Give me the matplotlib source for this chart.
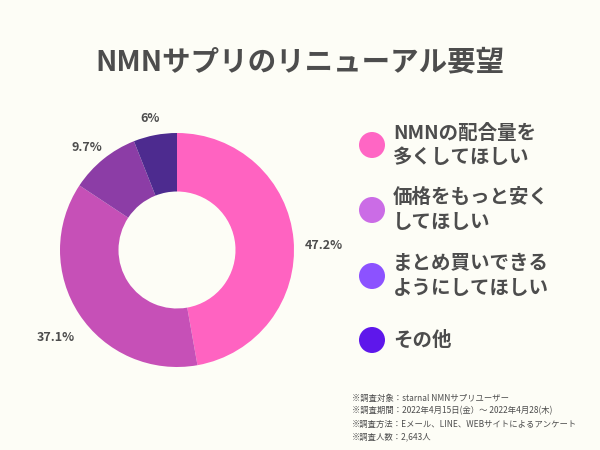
import matplotlib
matplotlib.use("Agg")
import matplotlib.pyplot as plt
from matplotlib.patches import Circle
import numpy as np

plt.rcParams['font.family'] = ['Noto Sans CJK JP', 'DejaVu Sans']

# data
categories = ["NMNの配合量を\n多くしてほしい", "価格をもっと安く\nしてほしい",
              "まとめ買いできる\nようにしてほしい", "その他"]
values = [47.2, 37.1, 9.7, 6.0]
value_labels = ["47.2%", "37.1%", "9.7%", "6%"]
pie_colors = ["#ff63c1", "#c650b7", "#8c3da6", "#4d2b8f"]
legend_colors = ["#ff66c4", "#cb6ce6", "#8c52ff", "#5e17eb"]
notes = [
    "※調査対象：starnal NMNサプリユーザー",
    "※調査期間：2022年4月15日(金）～ 2022年4月28(木)",
    "※調査方法：Eメール、LINE、WEBサイトによるアンケート",
    "※調査人数：2,643人",
]

BG = "#fdfdf6"
TXT = "#4d4d4d"

fig = plt.figure(figsize=(6, 4.5), dpi=100, facecolor=BG)
ax = fig.add_axes([0, 0, 1, 1])
ax.set_facecolor(BG)

# donut
cx, cy, r = 177, 200, 117
ax.pie(values, colors=pie_colors, startangle=90, counterclock=False,
       center=(cx, cy), radius=r, wedgeprops=dict(width=r * 0.5, linewidth=0),
       frame=True)
ax.set_xlim(0, 600)
ax.set_ylim(0, 450)
ax.set_aspect("equal")
ax.axis("off")

# percentage labels around the ring
ang = 90.0
label_r = [1.26, 1.24, 1.22, 1.21]
for v, lab, lr in zip(values, value_labels, label_r):
    mid = ang - v * 3.6 / 2
    ang -= v * 3.6
    t = np.deg2rad(mid)
    ax.text(cx + r * lr * np.cos(t), cy + r * lr * np.sin(t) - 8, lab,
            ha="center", va="center", fontsize=9, fontweight="bold", color=TXT)

# title
ax.text(300, 388, "NMNサプリのリニューアル要望", ha="center", va="center",
        fontsize=20.5, fontweight="bold", color=TXT)

# legend
leg_y = [305, 240, 174, 110]
for c, lab, y in zip(legend_colors, categories, leg_y):
    ax.add_patch(Circle((372, y), 13, color=c, linewidth=0))
    ax.text(393, y, lab, ha="left", va="center", fontsize=14, fontweight="bold",
            color=TXT, linespacing=1.35)

# footnotes
for i, n in enumerate(notes):
    ax.text(352, 52 - i * 13, n, ha="left", va="center", fontsize=6, color=TXT)

fig.savefig("out.png", dpi=100, facecolor=BG)
